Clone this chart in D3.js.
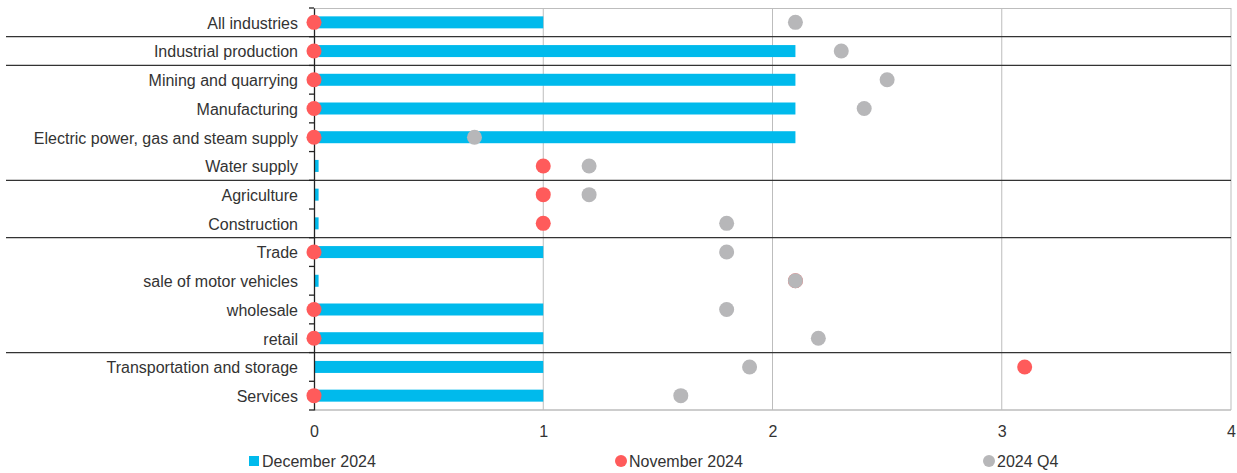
<!DOCTYPE html>
<html><head><meta charset="utf-8">
<script src="https://cdn.jsdelivr.net/npm/d3@7"></script>
<style>
body{margin:0;background:#fff;}
text{font-family:"Liberation Sans",Arial,sans-serif;fill:#333;}
</style></head>
<body>
<svg id="c" width="1237" height="473"></svg>
<script>
const categories = ["All industries","Industrial production","Mining and quarrying","Manufacturing","Electric power, gas and steam supply","Water supply","Agriculture","Construction","Trade","sale of motor vehicles","wholesale","retail","Transportation and storage","Services"];
const dec2024 = [1,2.1,2.1,2.1,2.1,0.02,0.02,0.02,1,0.02,1,1,1,1];
const nov2024 = [0,0,0,0,0,1,1,1,0,2.1,0,0,3.1,0];
const q4_2024 = [2.1,2.3,2.5,2.4,0.7,1.2,1.2,1.8,1.8,2.1,1.8,2.2,1.9,1.6];
const xTicks = [0,1,2,3,4];
const separatorsAfter = ["All industries","Industrial production","Water supply","Construction","retail"];
const seriesNames = ["December 2024","November 2024","2024 Q4"];

const svg = d3.select("#c");
const L=314, R=1231, T=8, B=410;
const x = d3.scaleLinear().domain([0,4]).range([L,R]);
const y = d3.scaleBand().domain(categories).range([T,B]);
const bw = y.bandwidth();
const FS = "16px";

// grid
svg.append("g").selectAll("line").data(xTicks.slice(1)).join("line")
  .attr("x1",d=>x(d)).attr("x2",d=>x(d)).attr("y1",T).attr("y2",B)
  .attr("stroke","#bdbdbd").attr("stroke-width",1);
svg.append("line").attr("x1",L).attr("x2",R).attr("y1",T+0.5).attr("y2",T+0.5).attr("stroke","#bdbdbd");
svg.append("line").attr("x1",L).attr("x2",R).attr("y1",B).attr("y2",B).attr("stroke","#bdbdbd").attr("stroke-width",1.5);

// separators
svg.append("g").selectAll("line").data(separatorsAfter).join("line")
  .attr("x1",6).attr("x2",R).attr("y1",d=>y(d)+bw).attr("y2",d=>y(d)+bw)
  .attr("stroke","#333").attr("stroke-width",1.3);

// bars
svg.append("g").selectAll("rect").data(categories).join("rect")
  .attr("x",x(0)).attr("y",(d)=>y(d)+bw/2-6)
  .attr("width",(d,i)=>x(dec2024[i])-x(0)).attr("height",12)
  .attr("fill","#00baec");

// y axis
const yAxis = svg.append("g").attr("transform",`translate(${x(0)},0)`)
  .call(d3.axisLeft(y).tickSize(0).tickPadding(16));
yAxis.select(".domain").attr("stroke","#222").attr("stroke-width",1.3);
yAxis.selectAll("text").style("font-size",FS).attr("fill","#333").attr("dy","0.4em");
// boundary ticks
svg.append("g").selectAll("line").data(d3.range(categories.length+1)).join("line")
  .attr("x1",x(0)-5).attr("x2",x(0)).attr("y1",i=>T+i*bw).attr("y2",i=>T+i*bw)
  .attr("stroke","#222").attr("stroke-width",1.3);

// red dots
svg.append("g").selectAll("circle").data(categories).join("circle")
  .attr("cx",(d,i)=>x(nov2024[i])).attr("cy",d=>y(d)+bw/2).attr("r",7.5)
  .attr("fill","#ff5b5b");
// gray dots
svg.append("g").selectAll("circle").data(categories).join("circle")
  .attr("cx",(d,i)=>x(q4_2024[i])).attr("cy",d=>y(d)+bw/2).attr("r",7.5)
  .attr("fill","#b7b7b9");

// x axis labels
const xAxis = svg.append("g").attr("transform",`translate(0,${B})`)
  .call(d3.axisBottom(x).tickValues(xTicks).tickSize(0).tickPadding(16).tickFormat(d3.format("d")));
xAxis.select(".domain").remove();
xAxis.selectAll("text").style("font-size",FS).attr("fill","#333");

// legend
const lg = svg.append("g");
const ly = 461;
lg.append("rect").attr("x",249).attr("y",ly-5).attr("width",10).attr("height",10).attr("fill","#00baec");
lg.append("text").attr("x",262).attr("y",ly+6).style("font-size",FS).text(seriesNames[0]);
lg.append("circle").attr("cx",621).attr("cy",ly).attr("r",6).attr("fill","#ff5b5b");
lg.append("text").attr("x",629).attr("y",ly+6).style("font-size",FS).text(seriesNames[1]);
lg.append("circle").attr("cx",989).attr("cy",ly).attr("r",6).attr("fill","#b7b7b9");
lg.append("text").attr("x",997).attr("y",ly+6).style("font-size",FS).text(seriesNames[2]);
</script>
</body></html>
